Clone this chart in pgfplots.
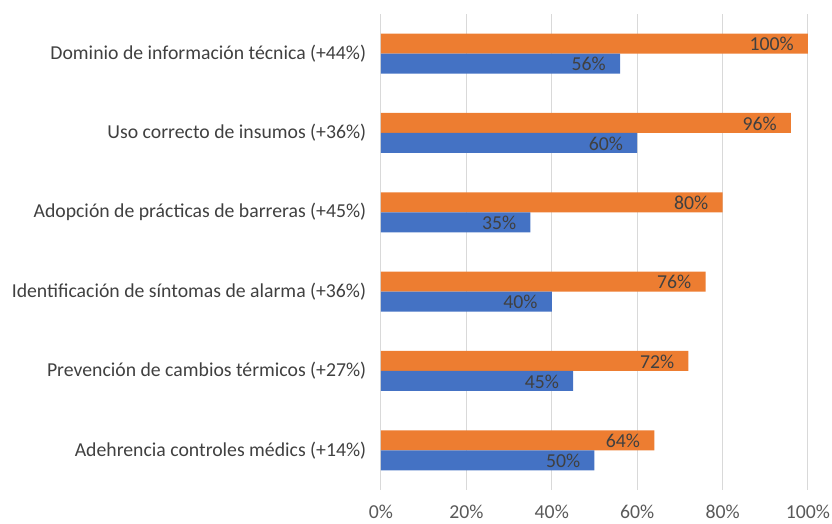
\documentclass[border=0pt]{standalone}
\usepackage{pgfplots}
\pgfplotsset{compat=1.18}
\usepackage{fontspec}
\setmainfont{Carlito}
\definecolor{cblue}{HTML}{4472C4}
\definecolor{corange}{HTML}{ED7D31}
\definecolor{ctxt}{HTML}{404040}
\definecolor{ctick}{HTML}{595959}
\definecolor{cgrid}{HTML}{D9D9D9}
\begin{document}
\fontsize{14.8pt}{17pt}\selectfont
\begin{tikzpicture}
\begin{axis}[
  scale only axis,
  width=320.25pt, height=357pt,
  xmin=0, xmax=100, ymin=-0.5, ymax=5.5,
  xtick={0,20,...,100},
  xticklabel={\pgfmathprintnumber{\tick}\%},
  ytick={0,1,2,3,4,5},
  yticklabels={Adehrencia controles médics (+14\%),
               Prevención de cambios térmicos (+27\%),
               Identificación de síntomas de alarma (+36\%),
               Adopción de prácticas de barreras (+45\%),
               Uso correcto de insumos (+36\%),
               Dominio de información técnica (+44\%)},
  /pgf/number format/assume math mode=true,
  major tick length=0pt,
  axis line style={draw=none},
  xmajorgrids,
  grid style={cgrid, line width=0.75pt},
  xticklabel style={ctick, yshift=-6pt},
  yticklabel style={ctxt, xshift=-6pt},
  nodes near coords={\pgfmathprintnumber{\pgfplotspointmeta}\%},
  every node near coord/.append style={ctxt, anchor=east, inner sep=0pt, xshift=-10.5pt},
  point meta=explicit,
  clip=false,
]
\addplot[xbar, bar width=15pt, bar shift=7.5pt, fill=corange, draw=none,
  every node near coord/.append style={yshift=7pt}]
  coordinates {(64,0)[64] (72,1)[72] (76,2)[76] (80,3)[80] (96,4)[96] (100,5)[100]};
\addplot[xbar, bar width=15pt, bar shift=-7.5pt, fill=cblue, draw=none,
  every node near coord/.append style={yshift=-8pt}]
  coordinates {(50,0)[50] (45,1)[45] (40,2)[40] (35,3)[35] (60,4)[60] (56,5)[56]};
\end{axis}
\pgfresetboundingbox
\useasboundingbox ([shift={(-285.75pt,-25.5pt)}]current axis.south west) rectangle ([shift={(18pt,10.5pt)}]current axis.north east);
\end{tikzpicture}
\end{document}
